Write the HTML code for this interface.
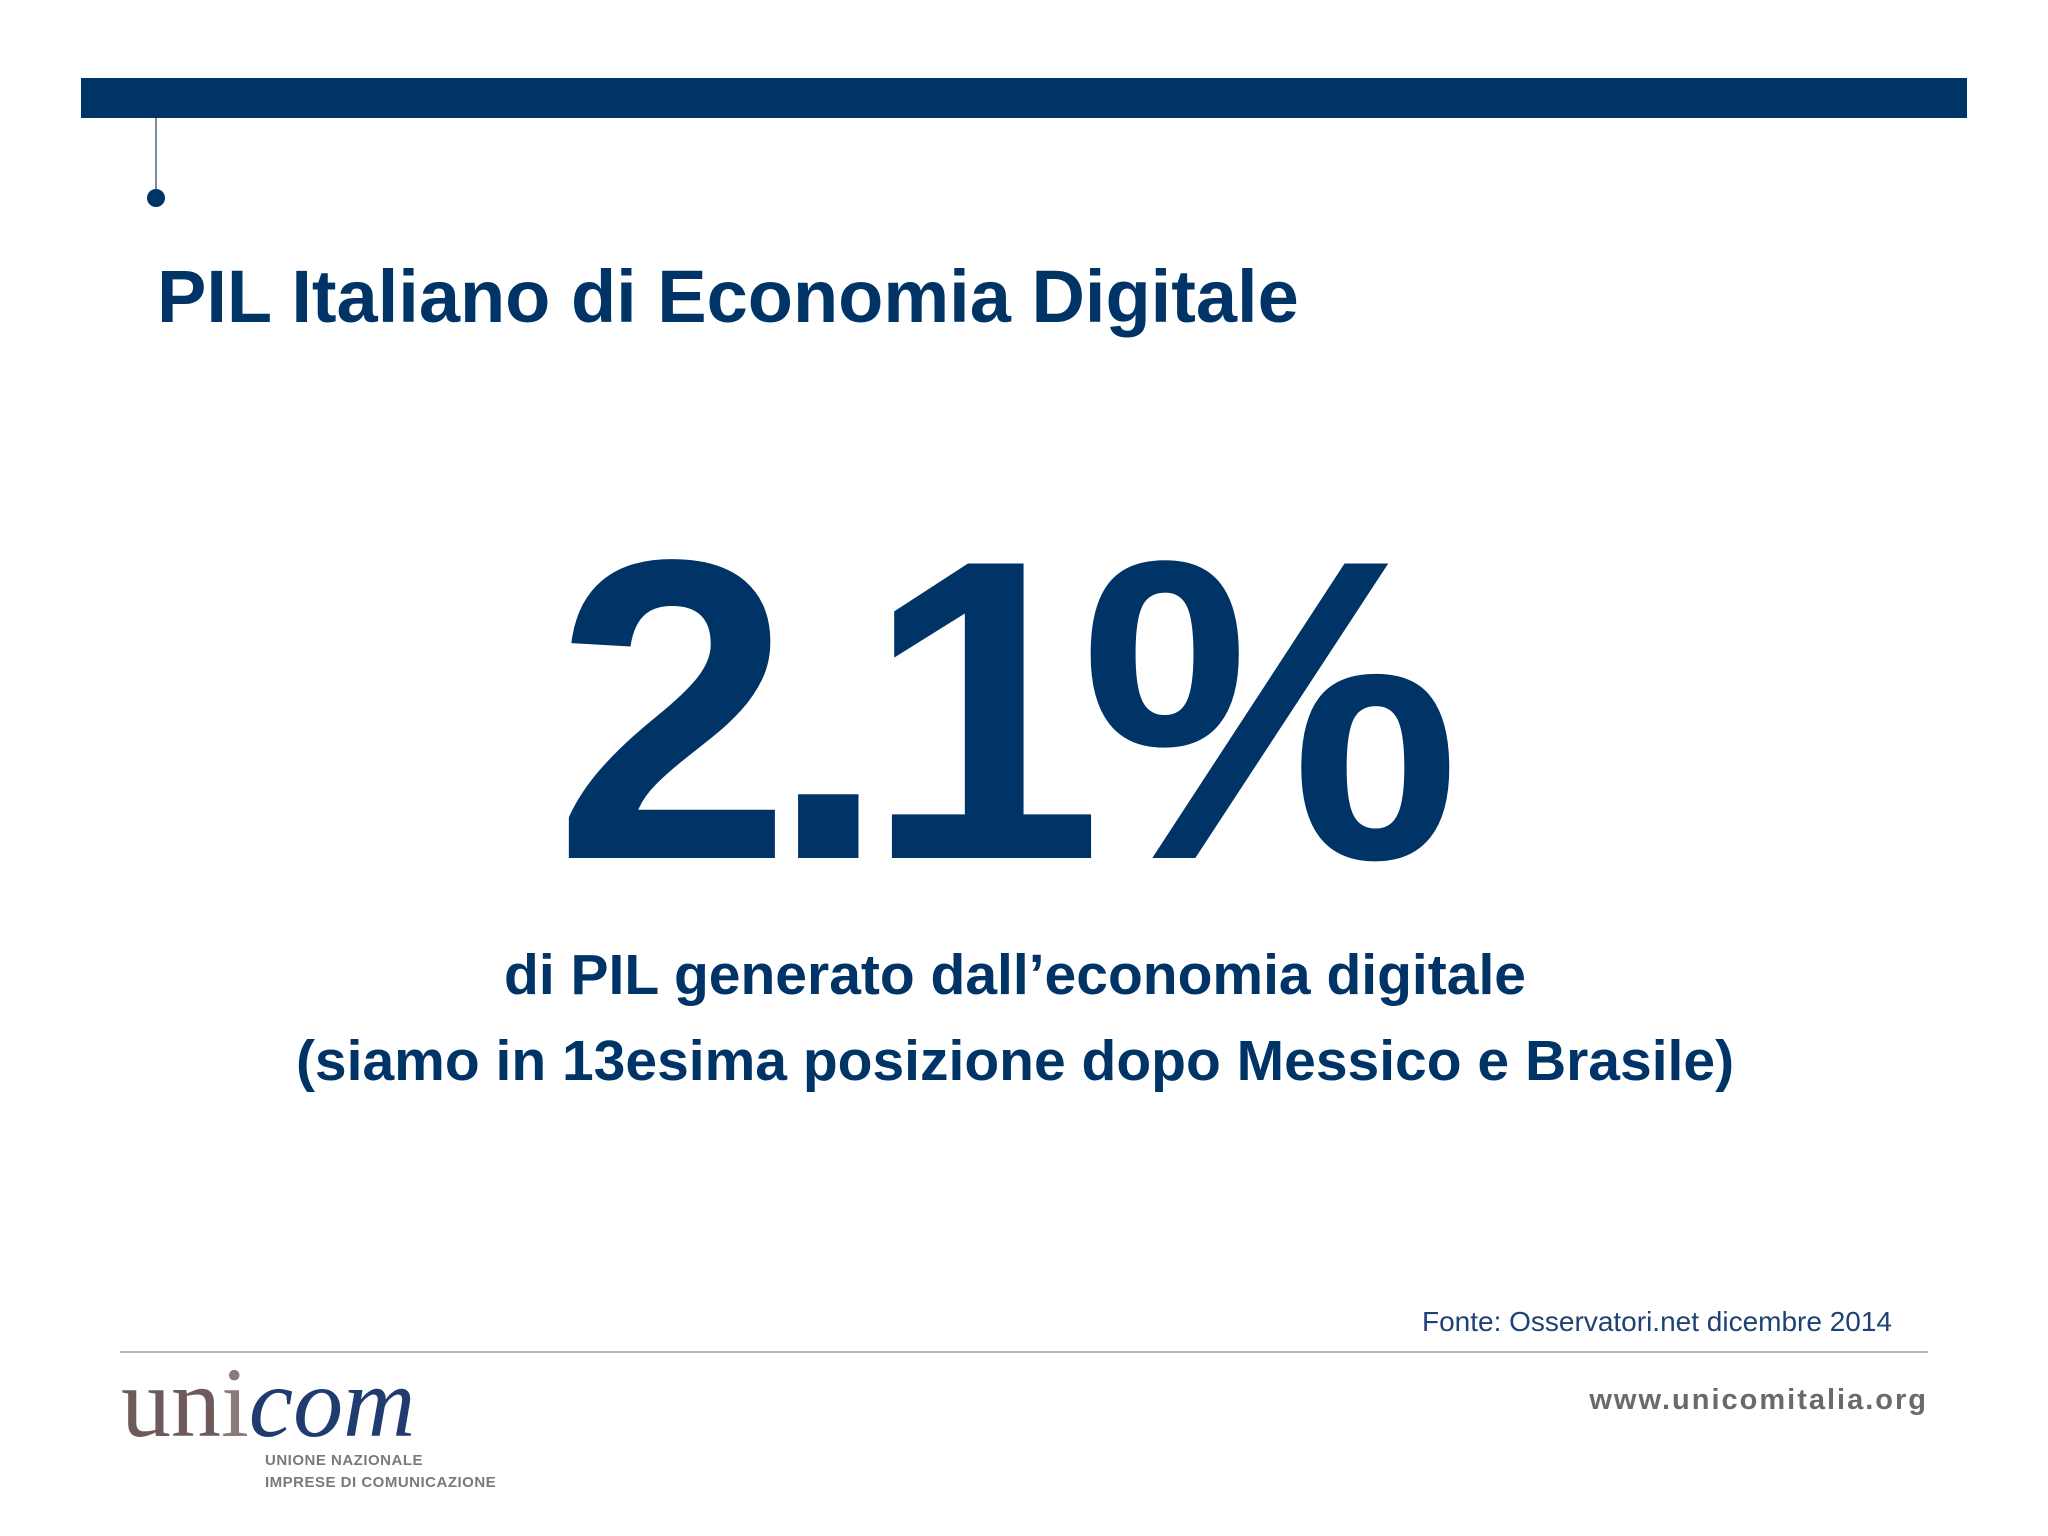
<!DOCTYPE html>
<html><head><meta charset="utf-8"><style>
body{margin:0;width:2048px;height:1536px;background:#fff;position:relative;overflow:hidden;font-family:"Liberation Sans",sans-serif;}
.a{position:absolute;}
</style></head><body>
<div class="a" style="left:81px;top:78px;width:1886px;height:40px;background:#003466"></div>
<div class="a" style="left:155px;top:118px;width:2px;height:78px;background:#7a8aa0"></div>
<div class="a" style="left:147px;top:189px;width:18px;height:18px;border-radius:50%;background:#003466"></div>
<div class="a" style="left:157px;top:254px;font-size:74px;font-weight:bold;color:#003466;white-space:nowrap">PIL Italiano di Economia Digitale</div>
<div class="a" style="left:554px;top:496px;font-size:428px;line-height:428px;font-weight:bold;color:#003466;letter-spacing:-23px;white-space:nowrap">2.1%</div>
<div class="a" style="left:0;width:2030px;text-align:center;top:942px;font-size:57px;font-weight:bold;color:#003466">di PIL generato dall’economia digitale</div>
<div class="a" style="left:0;width:2030px;text-align:center;top:1028px;font-size:57px;font-weight:bold;color:#003466">(siamo in 13esima posizione dopo Messico e Brasile)</div>
<div class="a" style="right:156px;top:1306px;font-size:28px;color:#1f4173">Fonte: Osservatori.net dicembre 2014</div>
<div class="a" style="left:120px;top:1351px;width:1808px;height:2px;background:#b8b8b8"></div>
<div class="a" style="left:121px;top:1345px;font-family:'Liberation Serif',serif;font-size:100px;color:#6e5a5a;white-space:nowrap">un<span style="color:#8a7a7a">i</span><i style="color:#1f3b70">com</i></div>
<div class="a" style="left:265px;top:1450px;font-size:15px;line-height:22px;font-weight:bold;color:#7a7a7a;letter-spacing:0.5px">UNIONE NAZIONALE<br>IMPRESE DI COMUNICAZIONE</div>
<div class="a" style="right:120px;top:1384px;font-size:29px;font-weight:bold;color:#6a6a6a;letter-spacing:2px">www.unicomitalia.org</div>
</body></html>
